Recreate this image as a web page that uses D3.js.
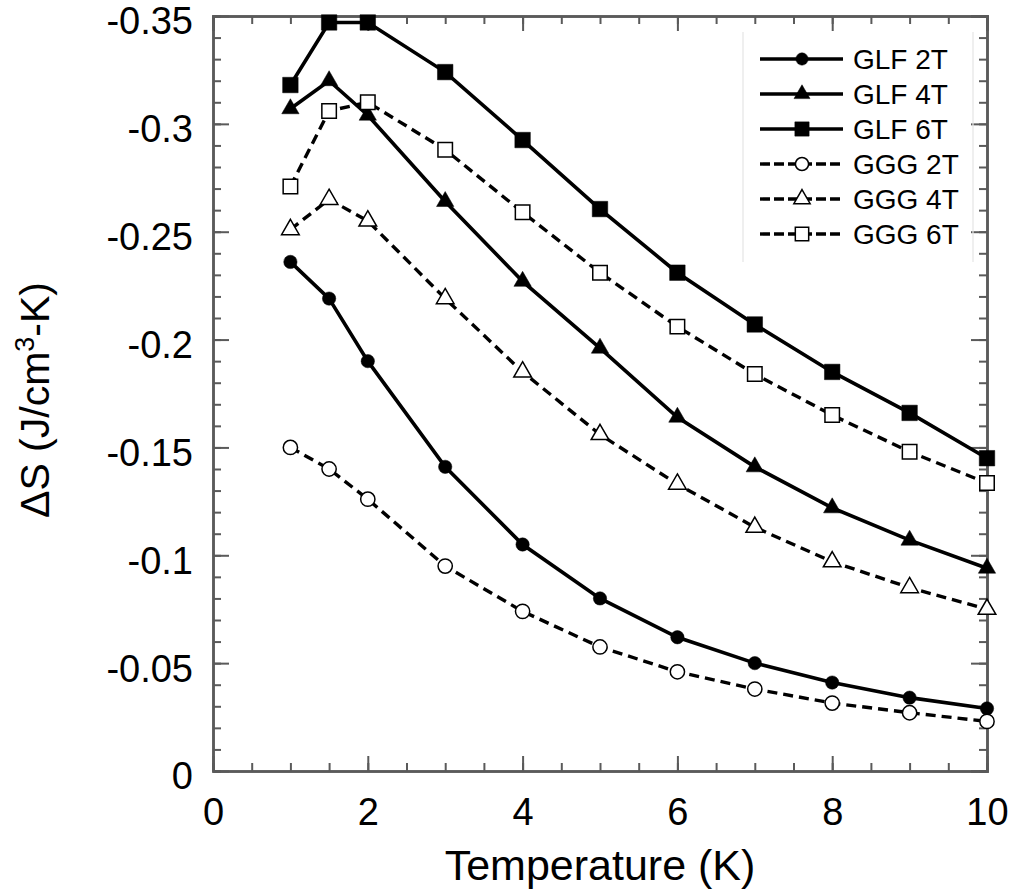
<!DOCTYPE html>
<html>
<head>
<meta charset="utf-8">
<script src="https://cdn.jsdelivr.net/npm/d3@7"></script>
<style>
  body { margin: 0; background: #fff; }
  svg { font-family: "Liberation Sans", Arial, Helvetica, sans-serif; }
</style>
</head>
<body>
<script>
// temperatures (K)
var temps = [1, 1.5, 2, 3, 4, 5, 6, 7, 8, 9, 10];

// entropy change, J/cm3-K
var glf2T = [-0.236, -0.219, -0.190, -0.141, -0.105, -0.080, -0.062, -0.050, -0.041, -0.034, -0.029];
var glf4T = [-0.307, -0.320, -0.304, -0.264, -0.227, -0.196, -0.164, -0.141, -0.122, -0.107, -0.094];
var glf6T = [-0.318, -0.347, -0.347, -0.324, -0.2925, -0.2605, -0.231, -0.207, -0.185, -0.166, -0.145];
var ggg2T = [-0.150, -0.140, -0.126, -0.095, -0.074, -0.0575, -0.046, -0.038, -0.0315, -0.027, -0.023];
var ggg4T = [-0.251, -0.265, -0.255, -0.219, -0.185, -0.156, -0.133, -0.113, -0.097, -0.085, -0.075];
var ggg6T = [-0.271, -0.306, -0.310, -0.288, -0.259, -0.231, -0.206, -0.184, -0.165, -0.148, -0.1335];

var seriesNames = ["GLF 2T", "GLF 4T", "GLF 6T", "GGG 2T", "GGG 4T", "GGG 6T"];
var seriesValues = [glf2T, glf4T, glf6T, ggg2T, ggg4T, ggg6T];

var xTicks = [0, 2, 4, 6, 8, 10];
var yTicks = [0, -0.05, -0.1, -0.15, -0.2, -0.25, -0.3, -0.35];

var width = 1016, height = 890;
var pLeft = 213, pRight = 987, pTop = 16, pBottom = 771;
var axisColor = "#5a5a5a";

// marker styles per series
var styles = [
    {shape: d3.symbolCircle, size: 140, filled: true, dash: null},
    {shape: d3.symbolTriangle, size: 130, filled: true, dash: null},
    {shape: d3.symbolSquare, size: 240, filled: true, dash: null},
    {shape: d3.symbolCircle, size: 160, filled: false, dash: "10,6"},
    {shape: d3.symbolTriangle, size: 135, filled: false, dash: "10,6"},
    {shape: d3.symbolSquare, size: 210, filled: false, dash: "10,6"}
];

var svg = d3.select("body").append("svg")
    .attr("width", width)
    .attr("height", height);

var xScale = d3.scaleLinear().domain([0, 10]).range([pLeft, pRight]);
var yScale = d3.scaleLinear().domain([0, -0.35]).range([pBottom, pTop]);

function fmtY(d) { return d === 0 ? "0" : String(+d.toFixed(2)); }

// minor ticks
var xMinor = d3.range(0, 10.01, 0.5);
var yMinor = d3.range(0, -0.3501, -0.01);

function styleAxis(g) {
    g.selectAll("path").attr("stroke", axisColor).attr("stroke-width", 2.5);
    g.selectAll("line").attr("stroke", axisColor).attr("stroke-width", 2);
}

// bottom
svg.append("g").attr("transform", "translate(0," + pBottom + ")")
    .call(d3.axisBottom(xScale).tickValues(xMinor).tickSize(-8).tickFormat(""))
    .call(styleAxis);
svg.append("g").attr("transform", "translate(0," + pBottom + ")")
    .call(d3.axisBottom(xScale).tickValues(xTicks).tickSizeInner(-15).tickSizeOuter(0).tickPadding(27).tickFormat(d3.format("d")))
    .call(styleAxis)
    .call(g => g.selectAll("text").attr("fill", "#000").attr("font-size", 38).attr("font-family", null));
// top
svg.append("g").attr("transform", "translate(0," + pTop + ")")
    .call(d3.axisTop(xScale).tickValues(xMinor).tickSize(-8).tickFormat(""))
    .call(styleAxis);
svg.append("g").attr("transform", "translate(0," + pTop + ")")
    .call(d3.axisTop(xScale).tickValues(xTicks).tickSize(-15).tickFormat(""))
    .call(styleAxis);
// left
svg.append("g").attr("transform", "translate(" + pLeft + ",0)")
    .call(d3.axisLeft(yScale).tickValues(yMinor).tickSize(-8).tickFormat(""))
    .call(styleAxis);
svg.append("g").attr("transform", "translate(" + pLeft + ",0)")
    .call(d3.axisLeft(yScale).tickValues(yTicks).tickSizeInner(-16).tickSizeOuter(0).tickPadding(20).tickFormat(fmtY))
    .call(styleAxis)
    .call(g => g.selectAll("text").attr("fill", "#000").attr("font-size", 38).attr("dy", "0.47em").attr("font-family", null));
// right
svg.append("g").attr("transform", "translate(" + pRight + ",0)")
    .call(d3.axisRight(yScale).tickValues(yMinor).tickSize(-8).tickFormat(""))
    .call(styleAxis);
svg.append("g").attr("transform", "translate(" + pRight + ",0)")
    .call(d3.axisRight(yScale).tickValues(yTicks).tickSize(-16).tickFormat(""))
    .call(styleAxis);

// axis titles
svg.append("text")
    .attr("x", (pLeft + pRight) / 2)
    .attr("y", 880)
    .attr("text-anchor", "middle")
    .attr("font-size", 43)
    .text("Temperature (K)");

var yTitle = svg.append("text")
    .attr("transform", "translate(49,400) rotate(-90)")
    .attr("text-anchor", "middle")
    .attr("font-size", 41);
yTitle.append("tspan").text("\u0394S (J/cm");
yTitle.append("tspan").attr("font-size", 27).attr("dy", -15).text("3");
yTitle.append("tspan").attr("dy", 15).text("-K)");

// lines
var line = d3.line()
    .x((d, i) => xScale(temps[i]))
    .y(d => yScale(d));

var plot = svg.append("g");
seriesValues.forEach(function (vals, k) {
    var st = styles[k];
    plot.append("path")
        .datum(vals)
        .attr("fill", "none")
        .attr("stroke", "#000")
        .attr("stroke-width", st.filled ? 3.6 : 3.4)
        .attr("stroke-dasharray", st.dash)
        .attr("d", line);
});
seriesValues.forEach(function (vals, k) {
    var st = styles[k];
    var sym = d3.symbol().type(st.shape).size(st.size);
    plot.append("g").selectAll("path")
        .data(vals)
        .join("path")
        .attr("transform", (d, i) => "translate(" + xScale(temps[i]) + "," + yScale(d) + ")")
        .attr("d", sym)
        .attr("fill", st.filled ? "#000" : "#fff")
        .attr("stroke", "#000")
        .attr("stroke-width", st.filled ? 0.5 : 1.5);
});

// legend
var legend = svg.append("g");
legend.append("line").attr("x1", 743).attr("x2", 743).attr("y1", 32).attr("y2", 262)
    .attr("stroke", "#e4e4e4").attr("stroke-width", 1.2);
legend.append("line").attr("x1", 973).attr("x2", 973).attr("y1", 32).attr("y2", 262)
    .attr("stroke", "#e4e4e4").attr("stroke-width", 1.2);

seriesNames.forEach(function (name, k) {
    var st = styles[k];
    var ly = 59 + k * 35;
    var row = legend.append("g").attr("transform", "translate(0," + ly + ")");
    row.append("line")
        .attr("x1", 760).attr("x2", 843)
        .attr("stroke", "#000")
        .attr("stroke-width", st.filled ? 3.6 : 3.4)
        .attr("stroke-dasharray", st.dash ? "10,4" : null);
    row.append("path")
        .attr("transform", "translate(802,0)")
        .attr("d", d3.symbol().type(st.shape).size(st.size * 0.85))
        .attr("fill", st.filled ? "#000" : "#fff")
        .attr("stroke", "#000")
        .attr("stroke-width", st.filled ? 0.5 : 1.5);
    row.append("text")
        .attr("x", 853)
        .attr("dy", "0.36em")
        .attr("font-size", 28)
        .text(name);
});
</script>
</body>
</html>
